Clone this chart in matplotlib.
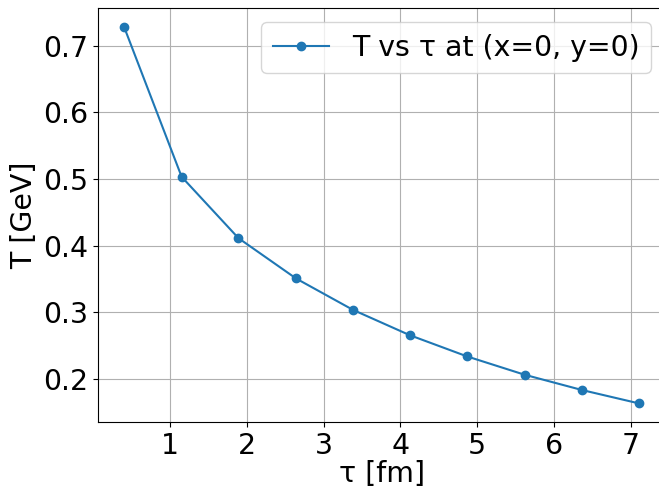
import matplotlib
matplotlib.use("Agg")
import matplotlib.pyplot as plt
from matplotlib.ticker import MultipleLocator

# Temperature at the centre of the fireball versus proper time
tau_fm = [0.40, 1.15, 1.89, 2.64, 3.38, 4.12, 4.87, 5.62, 6.37, 7.11]
temp_gev = [0.7285, 0.5035, 0.4115, 0.351, 0.304, 0.266, 0.234, 0.2065, 0.1835, 0.1635]

FS = 20.4

fig = plt.figure(figsize=(6.59, 4.88), dpi=100)
ax = fig.add_axes([98.3 / 659, 65.7 / 488, (665 - 98.3) / 659, (422.3 - 8) / 488])

ax.plot(tau_fm, temp_gev, marker="o", label="T vs τ at (x=0, y=0)")
ax.set_xlabel("τ [fm]", fontsize=FS, labelpad=0)
ax.set_ylabel("T [GeV]", fontsize=FS)
ax.xaxis.set_major_locator(MultipleLocator(1))
ax.tick_params(labelsize=FS)
ax.grid(True)
ax.legend(fontsize=FS, loc="upper right")

fig.savefig("out.png", dpi=100)
